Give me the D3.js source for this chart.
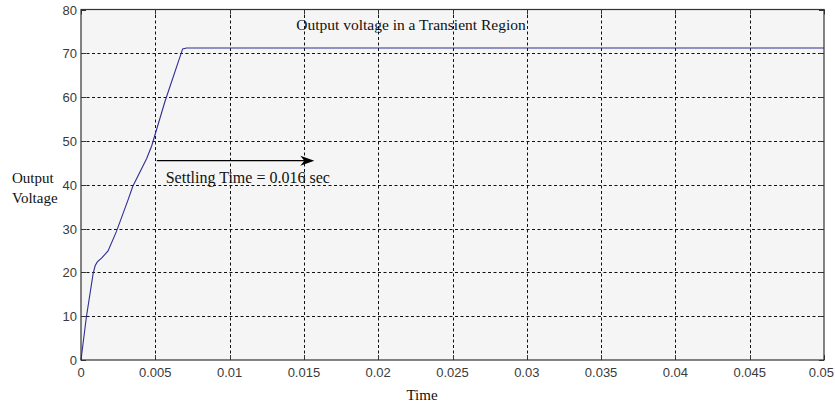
<!DOCTYPE html>
<html>
<head>
<style>
  body { margin: 0; background: #fff; }
  .tick-label { font-family: "Liberation Sans", Arial, sans-serif; font-size: 13px; fill: #3a3a3a; }
  .serif { font-family: "Liberation Serif", "Times New Roman", serif; fill: #111; }
</style>
</head>
<body>
<div id="chart"></div>
<script src="https://cdnjs.cloudflare.com/ajax/libs/d3/7.8.5/d3.min.js"></script>
<script>
// data
const time    = [0, 0.00036, 0.00081, 0.00095, 0.00110, 0.00140, 0.00182, 0.00238, 0.00316, 0.00348, 0.00442, 0.00476, 0.00565, 0.00684, 0.00711, 0.05];
const voltage = [0, 9.75,    19.6,    21.5,    22.4,    23.3,    24.9,    29.3,    36.5,    39.6,    46.0,    48.9,    59.0,    71.0,    71.2,    71.2];
const xTicks = [0, 0.005, 0.01, 0.015, 0.02, 0.025, 0.03, 0.035, 0.04, 0.045, 0.05];
const xTickLabels = ["0", "0.005", "0.01", "0.015", "0.02", "0.025", "0.03", "0.035", "0.04", "0.045", "0.05"];
const yTicks = [0, 10, 20, 30, 40, 50, 60, 70, 80];
const titleText = "Output voltage in a Transient Region";
const xLabel = "Time";
const yLabel = ["Output", "Voltage"];
const note = "Settling Time = 0.016 sec";
const arrowStart = [0.0051, 45.5];
const arrowEnd = [0.0157, 45.5];

const width = 835, height = 403;
const svg = d3.select("#chart").append("svg")
    .attr("width", width)
    .attr("height", height);

const x = d3.scaleLinear().domain([0, 0.05]).range([81, 824]);
const y = d3.scaleLinear().domain([0, 80]).range([360, 9.5]);

// plot background
svg.append("rect")
    .attr("x", x(0)).attr("y", y(80))
    .attr("width", x(0.05) - x(0)).attr("height", y(0) - y(80))
    .attr("fill", "#f5f5f5");

// grid
const grid = svg.append("g").attr("stroke", "#111").attr("stroke-width", 1).attr("stroke-dasharray", "3,2.5");
grid.selectAll(".gx").data(xTicks.slice(1, -1)).join("line")
    .attr("x1", d => Math.round(x(d)) + 0.5).attr("x2", d => Math.round(x(d)) + 0.5)
    .attr("y1", y(80)).attr("y2", y(0));
grid.selectAll(".gy").data(yTicks.slice(1, -1)).join("line")
    .attr("x1", x(0)).attr("x2", x(0.05))
    .attr("y1", d => Math.round(y(d)) + 0.5).attr("y2", d => Math.round(y(d)) + 0.5);

// curve
svg.append("path")
    .datum(d3.zip(time, voltage))
    .attr("fill", "none")
    .attr("stroke", "#2e2e96")
    .attr("stroke-width", 1.1)
    .attr("d", d3.line().x(d => x(d[0])).y(d => y(d[1])));

// inner ticks on all four sides
const tk = svg.append("g").attr("stroke", "#333").attr("stroke-width", 1);
xTicks.forEach(t => {
    const px = Math.round(x(t)) + 0.5;
    tk.append("line").attr("x1", px).attr("x2", px).attr("y1", y(0)).attr("y2", y(0) - 5);
    tk.append("line").attr("x1", px).attr("x2", px).attr("y1", y(80)).attr("y2", y(80) + 5);
});
yTicks.forEach(t => {
    const py = Math.round(y(t)) + 0.5;
    tk.append("line").attr("x1", x(0)).attr("x2", x(0) + 5).attr("y1", py).attr("y2", py);
    tk.append("line").attr("x1", x(0.05)).attr("x2", x(0.05) - 5).attr("y1", py).attr("y2", py);
});

// box
svg.append("rect")
    .attr("x", x(0)).attr("y", y(80))
    .attr("width", x(0.05) - x(0)).attr("height", y(0) - y(80))
    .attr("fill", "none").attr("stroke", "#333").attr("stroke-width", 1.2);

// tick labels (last one pulled in so it stays inside the window)
svg.selectAll(".xl").data(xTicks).join("text")
    .attr("class", "tick-label")
    .attr("x", (d, i) => i === xTicks.length - 1 ? width - 1 : x(d))
    .attr("y", y(0) + 17)
    .attr("text-anchor", (d, i) => i === xTicks.length - 1 ? "end" : "middle")
    .text((d, i) => xTickLabels[i]);
svg.selectAll(".yl").data(yTicks).join("text")
    .attr("class", "tick-label")
    .attr("x", x(0) - 4).attr("y", d => y(d) + 5)
    .attr("text-anchor", "end")
    .text(d => d);

// title and axis labels
svg.append("text").attr("class", "serif")
    .attr("x", 411).attr("y", 30).attr("text-anchor", "middle")
    .style("font-size", "15.5px").text(titleText);
svg.append("text").attr("class", "serif")
    .attr("x", 422).attr("y", 400).attr("text-anchor", "middle")
    .style("font-size", "15px").text(xLabel);
svg.selectAll(".ylab").data(yLabel).join("text").attr("class", "serif")
    .attr("x", 12).attr("y", (d, i) => 183 + i * 20)
    .style("font-size", "15px").text(d => d);

// settling-time arrow
const ax0 = x(arrowStart[0]), ax1 = x(arrowEnd[0]), ay = y(arrowStart[1]);
svg.append("line")
    .attr("x1", ax0).attr("x2", ax1 - 8).attr("y1", ay).attr("y2", ay)
    .attr("stroke", "#000").attr("stroke-width", 1.2);
svg.append("path")
    .attr("d", `M${ax1},${ay} L${ax1 - 14},${ay - 5} L${ax1 - 10},${ay} L${ax1 - 14},${ay + 5} Z`)
    .attr("fill", "#000");
svg.append("text").attr("class", "serif")
    .attr("x", x(0.0057)).attr("y", ay + 22)
    .style("font-size", "16px").text(note);
</script>
</body>
</html>
